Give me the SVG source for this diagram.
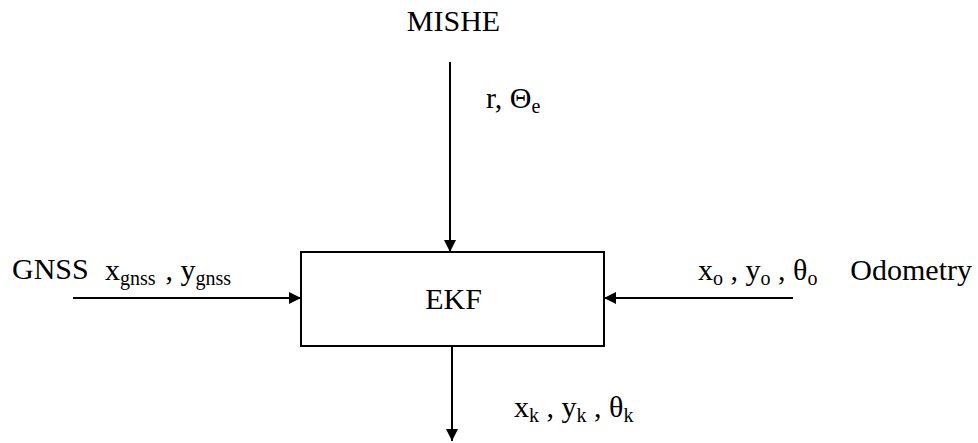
<svg xmlns="http://www.w3.org/2000/svg" width="978" height="443" viewBox="0 0 978 443">
<style>
text{font-family:"Liberation Serif","Times New Roman",serif;font-size:30px;fill:#000}
.sub{font-size:20px}
.box{fill:#fff;stroke:#000;stroke-width:2}
.conn line{stroke:#000;stroke-width:2}
</style>
<defs>
<marker id="arr" markerWidth="12" markerHeight="12" refX="12" refY="6" orient="auto" markerUnits="userSpaceOnUse">
<path d="M0,0 L12,6 L0,12 Z" fill="#000"/>
</marker>
</defs>
<g id="connectors" class="conn">
<line x1="450" y1="62" x2="450" y2="252" marker-end="url(#arr)"/>
<line x1="73" y1="298" x2="301" y2="298" marker-end="url(#arr)"/>
<line x1="793" y1="298" x2="604" y2="298" marker-end="url(#arr)"/>
<line x1="452" y1="346" x2="452" y2="441" marker-end="url(#arr)"/>
</g>
<g id="ekf">
<rect class="box" x="301" y="252" width="303" height="94"/>
<text x="453.5" y="309" text-anchor="middle">EKF</text>
</g>
<g id="mishe">
<text x="453.5" y="31" text-anchor="middle">MISHE</text>
</g>
<g id="gnss">
<text x="12" y="279">GNSS</text>
</g>
<g id="odometry">
<text x="972" y="280" text-anchor="end">Odometry</text>
</g>
<g id="labels">
<text x="486" y="108">r, Θ<tspan class="sub" dy="5">e</tspan></text>
<text x="105" y="280">x<tspan class="sub" dy="5">gnss</tspan><tspan dx="10" dy="-5">, y</tspan><tspan class="sub" dy="5">gnss</tspan></text>
<text x="698" y="280">x<tspan class="sub" dy="5">o</tspan><tspan dy="-5"> , y</tspan><tspan class="sub" dy="5">o</tspan><tspan dy="-5"> , θ</tspan><tspan class="sub" dy="5">o</tspan></text>
<text x="514" y="417">x<tspan class="sub" dy="5">k</tspan><tspan dy="-5"> , y</tspan><tspan class="sub" dy="5">k</tspan><tspan dy="-5"> , θ</tspan><tspan class="sub" dy="5">k</tspan></text>
</g>
</svg>
